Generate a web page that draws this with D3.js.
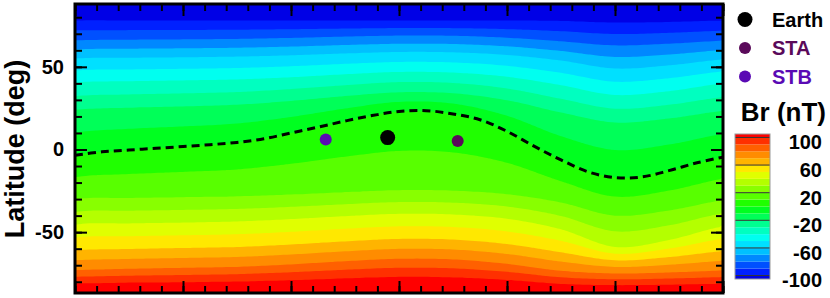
<!DOCTYPE html>
<html>
<head>
<meta charset="utf-8">
<script src="https://cdn.jsdelivr.net/npm/d3@7"></script>
<style>
  body { margin: 0; background: #fff; }
  svg { display: block; }
  text { font-family: "Liberation Sans", Arial, sans-serif; font-weight: bold; }
</style>
</head>
<body>
<div class="container"></div>
<script>

// latitude of selected Br contours (nT) at every 30 deg of longitude
var mapLon = [0, 30, 60, 90, 120, 150, 180, 210, 240, 270, 300, 330, 360];
var levelBr = [-100, -80, -60, -40, -20, 0, 20, 40, 60, 80, 100];
var levelLat = [
    [78, 78, 78, 78, 78, 78, 78, 78, 78, 77.7, 76.7, 77.1, 77.9],
    [66, 66.4, 66.6, 66.9, 67.5, 68.3, 68.9, 68.8, 67.6, 65.4, 63, 64, 65.8],
    [55, 55.5, 55.8, 56.2, 57, 58.1, 59, 58.8, 57.2, 53.8, 49, 50.9, 54.5],
    [40.5, 41.3, 41.8, 42.4, 43.7, 45.5, 46.9, 46.5, 44, 38.9, 33, 35.3, 39.9],
    [24, 25.3, 26.1, 27.1, 29.4, 32.3, 34.6, 34, 29.8, 22.4, 16.4, 18.8, 23.4],
    [-3.5, -0.3, 1.8, 4.3, 10, 17.2, 23, 21.5, 11, -6.3, -17, -12.8, -4.6],
    [-30, -29.4, -28.9, -28.4, -27.3, -25.9, -24.7, -25, -27.1, -32.1, -40, -36.9, -30.8],
    [-45.5, -44.7, -44.2, -43.5, -42.1, -40.3, -38.9, -39.3, -41.9, -48.3, -59, -54.8, -46.6],
    [-61, -60.2, -59.6, -59, -57.5, -55.6, -54.1, -54.5, -57.2, -62.2, -67, -65.1, -61.5],
    [-73, -72.2, -71.6, -71, -69.5, -67.6, -66.1, -66.5, -69.2, -73.4, -75, -74.4, -73.2],
    [-81, -80.5, -80.2, -79.8, -79, -77.9, -77, -77.3, -78.8, -81.2, -82, -81.7, -81.1]
];
var poleBr = [-110, 110];   // north, south

// neutral line (Br = 0), dashed
var nlLon = [0, 15, 30, 45, 60, 75, 90, 105, 120, 135, 150, 165, 180, 195, 210, 225, 240, 255, 270, 285, 300, 315, 330, 345, 360];
var nlLat = [-3.5, -1.4, -0.3, 0.7, 1.8, 2.9, 4.3, 6.5, 10, 13.5, 17.2, 20.5, 23, 23.5, 21.5, 18, 11, 2, -6.3, -13.5, -17, -16.6, -12.8, -8.2, -4.6];

// spacecraft positions
var scNames = ["Earth", "STA", "STB"];
var scLon = [173.7, 212.6, 139.3];
var scLat = [7.2, 5.2, 6.0];

// axis / colorbar ticks
var latTicks = [-50, 0, 50];
var cbTicks = [100, 60, 20, -20, -60, -100];
var brLevels = d3.range(-100, 101, 10);

var scColor = { "Earth": "#000000", "STA": "#5a0a5a", "STB": "#5a0ab4" };
var scRadius = { "Earth": 7.5, "STA": 6, "STB": 6 };
var bandColors = ["#0000e6", "#0020ff", "#0050ff", "#0088ff", "#00c0ff", "#00e0ff", "#00fff0",
    "#00ffc0", "#00ff90", "#00ff58", "#00ff20", "#20ff00", "#58ff00", "#88ff00", "#b4ff00",
    "#e0ff00", "#ffe800", "#ffb400", "#ff8c00", "#ff6000", "#ff3000", "#ff0000"];

var width = 830, height = 298;
var pLeft = 75, pRight = 723, pTop = 4, pBottom = 293;

var svg = d3.select('.container')
    .append('svg')
    .attr('width', width)
    .attr('height', height);

var x = d3.scaleLinear().domain([0, 360]).range([pLeft, pRight]);
var y = d3.scaleLinear().domain([-86.8, 88]).range([pBottom, pTop]);
var color = d3.scaleThreshold().domain(brLevels).range(bandColors);

// catmull-rom between p1 and p2
function cr(p0, p1, p2, p3, t) {
    return 0.5 * (2 * p1 + (-p0 + p2) * t + (2 * p0 - 5 * p1 + 4 * p2 - p3) * t * t
        + (-p0 + 3 * p1 - 3 * p2 + p3) * t * t * t);
}

function rowAt(row, lon) {
    var n = mapLon.length - 1;
    var u = (((lon % 360) + 360) % 360) / 30;
    var i = Math.floor(u), t = u - i;
    function c(k) { if (k < 0) k += n; if (k > n) k -= n; return row[k]; }
    return cr(c(i - 1), c(i), c(i + 1), c(i + 2), t);
}

// fine grid of Br built from the contour table, then banded with d3.contours
var stepLon = 2, stepLat = 0.5;
var fineLon = d3.range(-4, 364.001, stepLon);
var fineLat = d3.range(90, -90.001, -stepLat);
var nx = fineLon.length, ny = fineLat.length;

var values = new Array(nx * ny);
fineLon.forEach(function (lon, c) {
    var lats = [90].concat(levelLat.map(function (row) { return rowAt(row, lon); }), [-90]);
    var brs = [poleBr[0]].concat(levelBr, [poleBr[1]]);
    var k = 0;
    fineLat.forEach(function (lat, j) {
        while (k < lats.length - 2 && lat < lats[k + 1]) k++;
        var t = (lats[k] - lat) / (lats[k] - lats[k + 1]);
        t = Math.max(0, Math.min(1, t));
        values[j * nx + c] = brs[k] + t * (brs[k + 1] - brs[k]);
    });
});

var contours = d3.contours().size([nx, ny]).thresholds(brLevels)(values);

var proj = d3.geoTransform({
    point: function (px, py) {
        this.stream.point(x(fineLon[0] + (px - 0.5) * stepLon), y(90 - (py - 0.5) * stepLat));
    }
});
var path = d3.geoPath(proj);

svg.append('defs').append('clipPath').attr('id', 'plot-clip')
    .append('rect')
    .attr('x', pLeft).attr('y', pTop)
    .attr('width', pRight - pLeft).attr('height', pBottom - pTop);

var field = svg.append('g').attr('clip-path', 'url(#plot-clip)');

field.append('rect')
    .attr('x', pLeft).attr('y', pTop)
    .attr('width', pRight - pLeft).attr('height', pBottom - pTop)
    .attr('fill', bandColors[0]);

field.selectAll('path.band')
    .data(contours)
    .enter().append('path')
    .attr('class', 'band')
    .attr('d', path)
    .attr('fill', function (d) { return color(d.value); });

// neutral line
var line = d3.line()
    .x(function (d, i) { return x(nlLon[i]); })
    .y(function (d, i) { return y(nlLat[i]); })
    .curve(d3.curveCatmullRom);

field.append('path')
    .datum(nlLat)
    .attr('d', line)
    .attr('fill', 'none')
    .attr('stroke', '#000')
    .attr('stroke-width', 3)
    .attr('stroke-dasharray', '8,5');

// spacecraft
field.selectAll('circle.sc')
    .data(scNames)
    .enter().append('circle')
    .attr('class', 'sc')
    .attr('cx', function (d, i) { return x(scLon[i]); })
    .attr('cy', function (d, i) { return y(scLat[i]); })
    .attr('r', function (d) { return scRadius[d]; })
    .attr('fill', function (d) { return scColor[d]; });

// ticks on all four sides
function ticks(axis, tx, ty) {
    var g = svg.append('g').attr('transform', 'translate(' + tx + ',' + ty + ')').call(axis);
    g.select('.domain').remove();
    g.selectAll('line').attr('stroke', '#000').attr('stroke-width', 2);
    return g;
}
var lonMajor = d3.range(0, 361, 60), lonMinor = d3.range(0, 361, 12);
var latMinor = d3.range(-80, 81, 10);

ticks(d3.axisBottom(x).tickValues(lonMinor).tickSizeInner(-7).tickSizeOuter(0).tickFormat(''), 0, pBottom);
ticks(d3.axisBottom(x).tickValues(lonMajor).tickSizeInner(-12).tickSizeOuter(0).tickFormat(''), 0, pBottom);
ticks(d3.axisTop(x).tickValues(lonMinor).tickSizeInner(-7).tickSizeOuter(0).tickFormat(''), 0, pTop);
ticks(d3.axisTop(x).tickValues(lonMajor).tickSizeInner(-12).tickSizeOuter(0).tickFormat(''), 0, pTop);
ticks(d3.axisRight(y).tickValues(latMinor).tickSizeInner(-7).tickSizeOuter(0).tickFormat(''), pRight, 0);
ticks(d3.axisRight(y).tickValues(latTicks).tickSizeInner(-12).tickSizeOuter(0).tickFormat(''), pRight, 0);
ticks(d3.axisLeft(y).tickValues(latMinor).tickSizeInner(-7).tickSizeOuter(0).tickFormat(''), pLeft, 0);

var yAxis = ticks(d3.axisLeft(y).tickValues(latTicks).tickSizeInner(-12).tickSizeOuter(0)
    .tickPadding(10).tickFormat(function (d) { return String(d); }), pLeft, 0);
yAxis.selectAll('text')
    .attr('x', -11)
    .attr('fill', '#000')
    .style('font-size', '20px')
    .style('font-family', '"Liberation Sans", Arial, sans-serif')
    .style('font-weight', 'bold');

svg.append('rect')
    .attr('x', pLeft).attr('y', pTop)
    .attr('width', pRight - pLeft).attr('height', pBottom - pTop)
    .attr('fill', 'none')
    .attr('stroke', '#000')
    .attr('stroke-width', 3);

svg.append('text')
    .attr('transform', 'translate(24,149) rotate(-90)')
    .attr('text-anchor', 'middle')
    .style('font-size', '27px')
    .text('Latitude (deg)');

// legend
var legend = svg.append('g');
scNames.forEach(function (name, i) {
    var ly = 19.5 + i * 28.5;
    legend.append('circle')
        .attr('cx', 745).attr('cy', ly)
        .attr('r', name == 'Earth' ? 7.5 : 6)
        .attr('fill', scColor[name]);
    legend.append('text')
        .attr('x', 772).attr('y', ly)
        .attr('dy', '0.36em')
        .attr('fill', scColor[name])
        .style('font-size', '20px')
        .text(name);
});

// colorbar
var cbY = d3.scaleLinear().domain([-105, 105]).range([279, 134]);
var cbBands = [-105].concat(brLevels).map(function (lo, i, arr) {
    return [lo, i < arr.length - 1 ? arr[i + 1] : 105];
});
svg.append('g').selectAll('rect')
    .data(cbBands)
    .enter().append('rect')
    .attr('x', 735).attr('width', 35)
    .attr('y', function (d) { return cbY(d[1]); })
    .attr('height', function (d) { return cbY(d[0]) - cbY(d[1]); })
    .attr('fill', function (d) { return color(d[0]); });

svg.append('g').selectAll('line')
    .data(cbTicks)
    .enter().append('line')
    .attr('x1', 735).attr('x2', 770)
    .attr('y1', function (d) { return cbY(d); })
    .attr('y2', function (d) { return cbY(d); })
    .attr('stroke', '#333')
    .attr('stroke-width', 1);

svg.append('rect')
    .attr('x', 735).attr('y', 134)
    .attr('width', 35).attr('height', 145)
    .attr('fill', 'none')
    .attr('stroke', '#999')
    .attr('stroke-width', 1);

svg.append('g').selectAll('text')
    .data(cbTicks)
    .enter().append('text')
    .attr('x', 822)
    .attr('y', function (d) { return cbY(d) + 4.7; })
    .attr('dy', '0.36em')
    .attr('text-anchor', 'end')
    .style('font-size', '20px')
    .text(function (d) { return d; });

svg.append('text')
    .attr('x', 826).attr('y', 121)
    .attr('text-anchor', 'end')
    .style('font-size', '26px')
    .text('Br (nT)');

</script>
</body>
</html>
